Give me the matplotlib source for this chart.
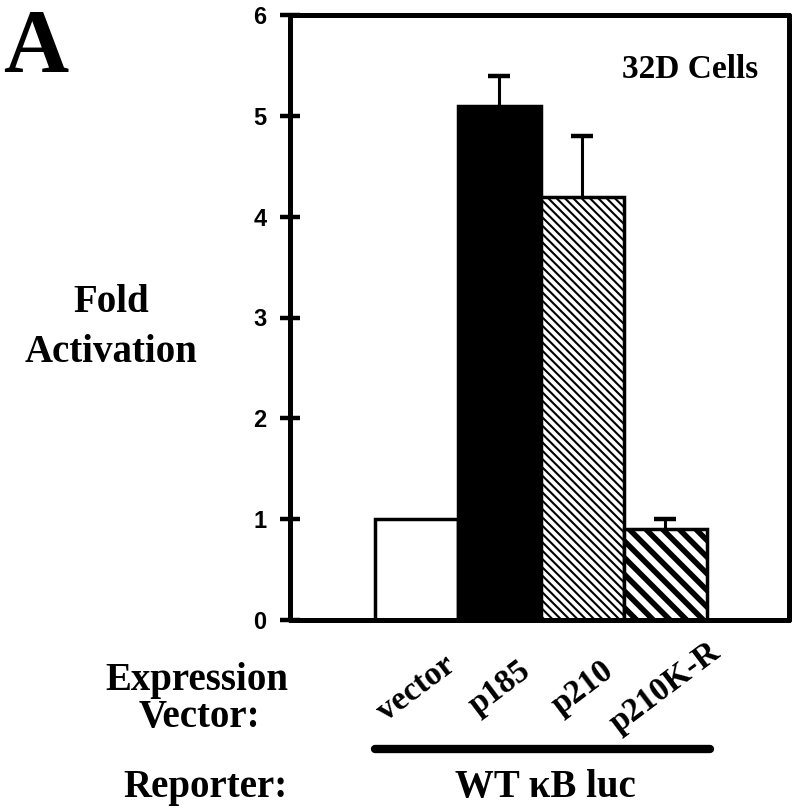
import numpy as np
import matplotlib
matplotlib.use("Agg")
import matplotlib.pyplot as plt
from matplotlib.lines import Line2D

# chart data
vectors = ["vector", "p185", "p210", "p210K-R"]
fold = [1.0, 5.1, 4.2, 0.9]
err_up = [0.0, 0.3, 0.6, 0.1]
fills = ["white", "black", "white", "white"]
hatches = ["", "", "\\\\\\\\", "\\\\"]
hatch_lw = [1.0, 1.0, 1.5, 4.0]
y_ticks = [0, 1, 2, 3, 4, 5, 6]

W, H = 800, 810
serif = ["Liberation Serif", "DejaVu Serif"]
sans = ["Liberation Sans", "DejaVu Sans"]


def px(x, y):
    # pixel position (from top-left) -> figure fraction
    return x / W, 1 - y / H


fig = plt.figure(figsize=(W / 100, H / 100), dpi=100)
left, bottom = px(290, 620)
right, top = px(789, 15)
ax = fig.add_axes([left, bottom, right - left, top - bottom])

x = np.arange(len(vectors))
bars = ax.bar(x, fold, width=1.0, color=fills, edgecolor="black",
              linewidth=2.5, zorder=2)
for b, h, lw in zip(bars, hatches, hatch_lw):
    if h:
        b.set_hatch(h)
        if hasattr(b, "set_hatch_linewidth"):
            b.set_hatch_linewidth(lw)

# upper error bars only (stem + cap)
fold_a = np.array(fold)
err_a = np.array(err_up)
has = err_a > 0
ax.vlines(x[has], fold_a[has], fold_a[has] + err_a[has], color="black",
          linewidth=2.2, zorder=1)
ax.hlines(fold_a[has] + err_a[has], x[has] - 0.13, x[has] + 0.13,
          color="black", linewidth=3.2, zorder=1)

ax.set_xlim(-1.52, 4.49)
ax.set_ylim(0, 6)
ax.set_yticks(y_ticks)
ax.set_yticklabels([str(t) for t in y_ticks], family=sans,
                   fontweight="bold", fontsize=17)
ax.tick_params(axis="y", direction="inout", length=14, width=3.2, pad=10)

ax.set_xticks(x)
ax.set_xticklabels(vectors, family=serif, fontweight="bold", fontsize=24,
                   rotation=37, ha="center", va="center")
ax.tick_params(axis="x", length=0, pad=49)

for s in ax.spines.values():
    s.set_linewidth(3.6)
    s.set_capstyle("round")

ax.text(0.938, 0.896, "32D Cells", transform=ax.transAxes, ha="right",
        va="baseline", family=serif, fontweight="bold", fontsize=24)

# text outside the axes
def label(xp, yp, s, size, ha="center"):
    fig.text(*px(xp, yp), s, ha=ha, va="baseline", family=serif,
             fontweight="bold", fontsize=size)

label(3, 72, "A", 65, ha="left")
label(111, 312, "Fold", 28)
label(111, 362, "Activation", 28)
label(197, 690, "Expression", 28)
label(199, 727, "Vector:", 28)
label(206, 797, "Reporter:", 28)
label(545, 797, "WT \u03baB luc", 28)

x0, y0 = px(375, 749)
x1, _ = px(710, 749)
fig.add_artist(Line2D([x0, x1], [y0, y0], transform=fig.transFigure,
                      color="black", linewidth=6, solid_capstyle="round"))

fig.savefig("out.png", dpi=100)
